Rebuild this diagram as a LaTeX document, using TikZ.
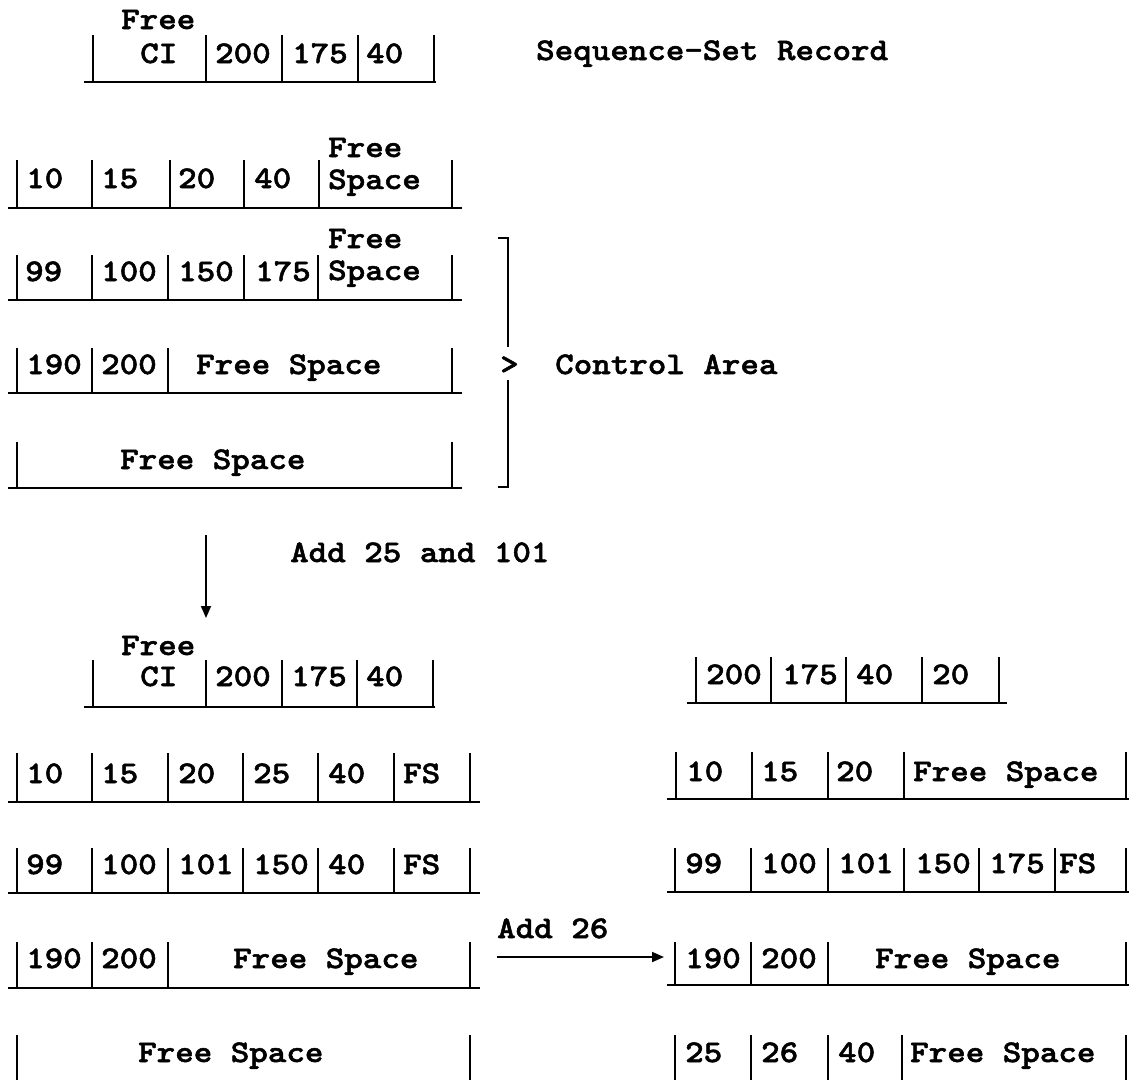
\documentclass[tikz,border=0pt]{standalone}
\usepackage{fontspec}
\newfontfamily\cour{lmmonolt10-bold.otf}[FakeStretch=1.12,FakeBold=1.6]
\usetikzlibrary{arrows.meta}
\begin{document}
\begin{tikzpicture}[x=1pt,y=-1pt,
  txt/.style={anchor=base west,inner sep=0pt,font=\fontsize{31.5}{31.5}\selectfont\cour},
  vl/.style={line width=1.8pt},
  hl/.style={line width=2.5pt},
  arr/.style={line width=1.8pt,-{Triangle[length=12pt,width=10pt]}}]
\useasboundingbox (0,0) rectangle (1129,1080);
% ---------- top sequence-set record ----------
\foreach \x in {93,206,282,358,434} \draw[vl] (\x,35) -- (\x,82);
\draw[hl] (84,82) -- (436,82);
\node[txt] (a0) at (121,29) {Free};
\node[txt] (a1) at (140,63) {CI};
\node[txt] (a2) at (215,63) {200};
\node[txt] (a3) at (292,63) {175};
\node[txt] (a4) at (366,63) {40};
\node[txt] (title) at (536,60) {Sequence-Set Record};
% ---------- row B ----------
\foreach \x in {17,92,170,244,319,452} \draw[vl] (\x,160) -- (\x,208);
\draw[hl] (8,208) -- (462,208);
\node[txt] (b1) at (26,188) {10};
\node[txt] (b2) at (101,188) {15};
\node[txt] (b3) at (178,188) {20};
\node[txt] (b4) at (254,188) {40};
\node[txt] (b5) at (328,157) {Free};
\node[txt] (b6) at (328,189) {Space};
% ---------- row C ----------
\foreach \x in {17,92,168,244,318,452} \draw[vl] (\x,255) -- (\x,300);
\draw[hl] (8,300) -- (462,300);
\node[txt] (c1) at (25,281) {99};
\node[txt] (c2) at (101,281) {100};
\node[txt] (c3) at (178,281) {150};
\node[txt] (c4) at (255,281) {175};
\node[txt] (c5) at (328,248) {Free};
\node[txt] (c6) at (328,280) {Space};
% ---------- row D ----------
\foreach \x in {17,92,168,452} \draw[vl] (\x,348) -- (\x,393);
\draw[hl] (8,393) -- (462,393);
\node[txt] (d1) at (26,374) {190};
\node[txt] (d2) at (101,374) {200};
\node[txt] (d3) at (196,374) {Free Space};
% ---------- row E ----------
\foreach \x in {17,452} \draw[vl] (\x,442) -- (\x,488);
\draw[hl] (8,488) -- (462,488);
\node[txt] (e1) at (120,469) {Free Space};
% ---------- bracket ----------
\draw[vl] (498,238) -- (508,238) -- (508,347);
\draw[vl] (508,380) -- (508,487) -- (498,487);
\node[txt] (gt) at (500,374) {>};
\node[txt] (ctrl) at (555,374) {Control Area};
% ---------- down arrow ----------
\coordinate (dstart) at (206,535);
\coordinate (dend) at (206,618);
\draw[arr] (dstart) -- (dend);
\node[txt] (add1) at (290,562) {Add 25 and 101};
% ---------- bottom-left header ----------
\foreach \x in {93,206,282,357,433} \draw[vl] (\x,660) -- (\x,707);
\draw[hl] (84,707) -- (435,707);
\node[txt] (f0) at (121,655) {Free};
\node[txt] (f1) at (140,686) {CI};
\node[txt] (f2) at (215,686) {200};
\node[txt] (f3) at (291,686) {175};
\node[txt] (f4) at (366,686) {40};
% ---------- row G ----------
\foreach \x in {17,92,168,243,318,394,470} \draw[vl] (\x,753) -- (\x,802);
\draw[hl] (8,802) -- (480,802);
\node[txt] (g1) at (26,783) {10};
\node[txt] (g2) at (101,783) {15};
\node[txt] (g3) at (178,783) {20};
\node[txt] (g4) at (253,783) {25};
\node[txt] (g5) at (328,783) {40};
\node[txt] (g6) at (403,783) {FS};
% ---------- row H ----------
\foreach \x in {17,92,168,243,318,394,470} \draw[vl] (\x,848) -- (\x,893);
\draw[hl] (8,893) -- (480,893);
\node[txt] (h1) at (26,874) {99};
\node[txt] (h2) at (101,874) {100};
\node[txt] (h3) at (178,874) {101};
\node[txt] (h4) at (253,874) {150};
\node[txt] (h5) at (328,874) {40};
\node[txt] (h6) at (403,874) {FS};
% ---------- row I ----------
\foreach \x in {17,92,168,470} \draw[vl] (\x,942) -- (\x,988);
\draw[hl] (8,988) -- (480,988);
\node[txt] (i1) at (26,968) {190};
\node[txt] (i2) at (101,968) {200};
\node[txt] (i3) at (233,968) {Free Space};
% ---------- row J ----------
\foreach \x in {17,470} \draw[vl] (\x,1035) -- (\x,1080);
\node[txt] (j1) at (138,1062) {Free Space};
% ---------- right header ----------
\foreach \x in {696,771,846,922,999} \draw[vl] (\x,657) -- (\x,703);
\draw[hl] (687,703) -- (1007,703);
\node[txt] (k1) at (706,684) {200};
\node[txt] (k2) at (782,684) {175};
\node[txt] (k3) at (856,684) {40};
\node[txt] (k4) at (932,684) {20};
% ---------- row L ----------
\foreach \x in {676,752,828,904,1126} \draw[vl] (\x,752) -- (\x,799);
\draw[hl] (667,799) -- (1129,799);
\node[txt] (l1) at (686,781) {10};
\node[txt] (l2) at (761,781) {15};
\node[txt] (l3) at (836,781) {20};
\node[txt] (l4) at (913,781) {Free Space};
% ---------- row M ----------
\foreach \x in {675,751,828,904,979,1055,1126} \draw[vl] (\x,848) -- (\x,892);
\draw[hl] (667,892) -- (1129,892);
\node[txt] (m1) at (685,873) {99};
\node[txt] (m2) at (761,873) {100};
\node[txt] (m3) at (838,873) {101};
\node[txt] (m4) at (915,873) {150};
\node[txt] (m5) at (989,873) {175};
\node[txt] (m6) at (1059,873) {FS};
% ---------- row N ----------
\foreach \x in {675,751,828,1126} \draw[vl] (\x,942) -- (\x,985);
\draw[hl] (667,985) -- (1129,985);
\node[txt] (n1) at (685,968) {190};
\node[txt] (n2) at (761,968) {200};
\node[txt] (n3) at (875,968) {Free Space};
% ---------- row O ----------
\foreach \x in {675,751,828,902,1126} \draw[vl] (\x,1035) -- (\x,1080);
\node[txt] (o1) at (685,1062) {25};
\node[txt] (o2) at (761,1062) {26};
\node[txt] (o3) at (838,1062) {40};
\node[txt] (o4) at (910,1062) {Free Space};
% ---------- horizontal arrow ----------
\node[txt] (add2) at (497,938) {Add 26};
\coordinate (hstart) at (497,957);
\coordinate (hend) at (664,957);
\draw[arr] (hstart) -- (hend);
\end{tikzpicture}
\end{document}
